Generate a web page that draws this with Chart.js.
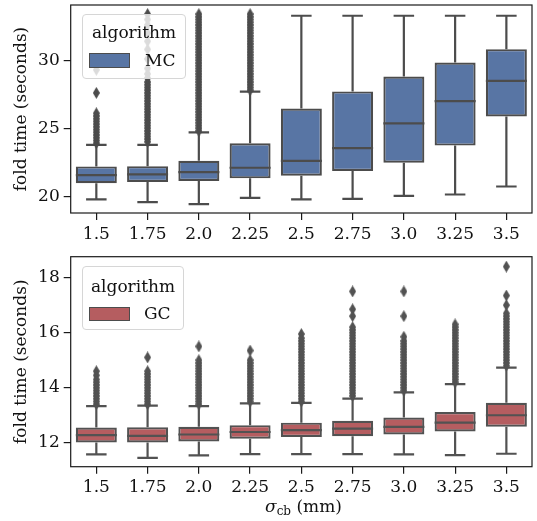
<!DOCTYPE html>
<html>
<head>
<meta charset="utf-8">
<script src="https://cdn.jsdelivr.net/npm/chart.js@4.4.1/dist/chart.umd.min.js"></script>
<style>
  body { margin: 0; background: #fff; }
  #wrap { position: relative; width: 537px; height: 521px; font-family: "DejaVu Serif", serif; color: #111; }
  #wrap canvas { position: absolute; left: 0; }
  #topChart { top: 0; }
  #bottomChart { top: 250px; }
  .legend { position: absolute; background: rgba(255, 255, 255, 0.8); border: 1px solid #d6d6d6; border-radius: 4px; box-sizing: border-box; font-size: 17px; }
  .legend .title { position: absolute; left: 0; right: 0; text-align: center; line-height: 20px; }
  .legend .patch { position: absolute; width: 41px; height: 15px; box-sizing: border-box; border: 1px solid #4c4c4c; }
  .legend .label { position: absolute; line-height: 20px; }
  #xTitle { position: absolute; left: 70px; width: 467px; top: 496px; text-align: center; font-size: 17px; }
  #xTitle sub { font-size: 12px; vertical-align: -3px; }
</style>
</head>
<body>
<div id="wrap">
  <canvas id="topChart" width="537" height="250"></canvas>
  <canvas id="bottomChart" width="537" height="271"></canvas>
  <div class="legend" style="left:82px; top:14px; width:104px; height:65px;">
    <div class="title" style="top:7px;">algorithm</div>
    <div class="patch" style="left:6px; top:38px; background:#5875a4;"></div>
    <div class="label" style="left:62px; top:35px;">MC</div>
  </div>
  <div class="legend" style="left:82px; top:266px; width:102px; height:64px;">
    <div class="title" style="top:9px;">algorithm</div>
    <div class="patch" style="left:6px; top:40px; height:14px; background:#b55d60;"></div>
    <div class="label" style="left:61px; top:36px;">GC</div>
  </div>
  <div id="xTitle"><i>σ</i><sub>cb</sub> (mm)</div>
</div>
<script>
    "use strict";

    var categories = ['1.5', '1.75', '2.0', '2.25', '2.5', '2.75', '3.0', '3.25', '3.5'];

    // MC fold times (top panel)
    var mcLow    = [19.76, 19.56, 19.42, 19.88, 19.76, 19.80, 20.02, 20.12, 20.71];
    var mcQ1     = [20.95, 21.04, 21.12, 21.31, 21.51, 21.85, 22.46, 23.72, 25.86];
    var mcMedian = [21.55, 21.60, 21.77, 22.09, 22.60, 23.53, 25.35, 27.00, 28.49];
    var mcQ3     = [22.19, 22.21, 22.60, 23.89, 26.45, 27.71, 28.81, 29.83, 30.82];
    var mcHigh   = [23.77, 23.77, 24.69, 27.69, 33.28, 33.28, 33.28, 33.28, 33.28];
    var mcOutliers = [
        [23.9, 24.1, 24.3, 24.5, 24.7, 24.9, 25.1, 25.3, 25.5, 25.7, 25.9, 26.1, 27.6, 29.3],
        [24.0, 24.2, 24.4, 24.6, 24.8, 25.0, 25.2, 25.4, 25.6, 25.8, 26.0, 26.2, 26.4, 26.6, 26.8,
         27.0, 27.2, 27.4, 27.6, 27.8, 28.0, 28.2, 28.4, 28.7, 29.0, 29.4, 30.1, 30.8, 31.4, 32.0,
         32.6, 33.0, 33.4],
        [24.8, 25.0, 25.2, 25.4, 25.6, 25.8, 26.0, 26.2, 26.4, 26.6, 26.8, 27.0, 27.2, 27.4, 27.6,
         27.8, 28.0, 28.2, 28.4, 28.6, 28.8, 29.0, 29.2, 29.4, 29.6, 29.8, 30.0, 30.2, 30.4, 30.6,
         30.8, 31.0, 31.2, 31.4, 31.6, 31.8, 32.0, 32.2, 32.4, 32.6, 32.8, 33.0, 33.2, 33.4],
        [27.8, 28.0, 28.2, 28.4, 28.6, 28.8, 29.0, 29.2, 29.4, 29.6, 29.8, 30.0, 30.2, 30.4, 30.6,
         30.8, 31.0, 31.2, 31.4, 31.6, 31.8, 32.0, 32.2, 32.4, 32.6, 32.8, 33.0, 33.2, 33.4],
        [], [], [], [], []
    ];
    var mcTicks = [20, 25, 30];

    // GC fold times (bottom panel)
    var gcLow    = [11.58, 11.45, 11.54, 11.59, 11.59, 11.59, 11.58, 11.55, 11.60];
    var gcQ1     = [12.01, 12.01, 12.05, 12.15, 12.21, 12.24, 12.30, 12.41, 12.58];
    var gcMedian = [12.28, 12.25, 12.30, 12.39, 12.46, 12.51, 12.58, 12.73, 13.00];
    var gcQ3     = [12.55, 12.56, 12.58, 12.64, 12.73, 12.80, 12.92, 13.12, 13.45];
    var gcHigh   = [13.33, 13.35, 13.33, 13.43, 13.45, 13.60, 13.83, 14.13, 14.73];
    var gcOutliers = [
        [13.4, 13.5, 13.6, 13.7, 13.8, 13.9, 14.0, 14.1, 14.2, 14.3, 14.45, 14.6],
        [13.4, 13.5, 13.6, 13.7, 13.8, 13.9, 14.0, 14.1, 14.2, 14.3, 14.4, 14.5, 14.6, 15.1],
        [13.4, 13.5, 13.6, 13.7, 13.8, 13.9, 14.0, 14.1, 14.2, 14.3, 14.4, 14.5, 14.6, 14.7, 14.8,
         14.9, 15.0, 15.5],
        [13.5, 13.6, 13.7, 13.8, 13.9, 14.0, 14.1, 14.2, 14.3, 14.4, 14.5, 14.6, 14.7, 14.8, 14.9,
         15.0, 15.35],
        [13.5, 13.6, 13.7, 13.8, 13.9, 14.0, 14.1, 14.2, 14.3, 14.4, 14.5, 14.6, 14.7, 14.8, 14.9,
         15.0, 15.1, 15.2, 15.3, 15.4, 15.5, 15.6, 15.7, 15.8, 15.95],
        [13.7, 13.8, 13.9, 14.0, 14.1, 14.2, 14.3, 14.4, 14.5, 14.6, 14.7, 14.8, 14.9, 15.0, 15.1,
         15.2, 15.3, 15.4, 15.5, 15.6, 15.7, 15.8, 15.9, 16.0, 16.1, 16.2, 16.6, 16.85, 17.5],
        [13.9, 14.0, 14.1, 14.2, 14.3, 14.4, 14.5, 14.6, 14.7, 14.8, 14.9, 15.0, 15.1, 15.2, 15.3,
         15.4, 15.5, 15.6, 15.7, 15.85, 16.6, 17.5],
        [14.2, 14.3, 14.4, 14.5, 14.6, 14.7, 14.8, 14.9, 15.0, 15.1, 15.2, 15.3, 15.4, 15.5, 15.6,
         15.7, 15.8, 15.9, 16.0, 16.1, 16.2, 16.3],
        [14.8, 14.9, 15.0, 15.1, 15.2, 15.3, 15.4, 15.5, 15.6, 15.7, 15.8, 15.9, 16.0, 16.1, 16.2,
         16.3, 16.4, 16.5, 16.6, 16.7, 17.0, 17.35, 18.4]
    ];
    var gcTicks = [12, 14, 16, 18];

    var BLUE = '#5875a4';
    var RED = '#b55d60';
    var FONT = { family: '"DejaVu Serif", serif', size: 17 };
    var FRAME = '#1a1a1a';

    // thin diamond marker like matplotlib's 'd'
    function diamond(w, h, color) {
        var c = document.createElement('canvas');
        c.width = w;
        c.height = h;
        var g = c.getContext('2d');
        g.fillStyle = color;
        g.beginPath();
        g.moveTo(w / 2, 0);
        g.lineTo(w, h / 2);
        g.lineTo(w / 2, h);
        g.lineTo(0, h / 2);
        g.closePath();
        g.fill();
        return c;
    }

    // whiskers, caps, medians and the axes frame
    function boxPlugin(stats, lineColor) {
        function capHalf(chart) {
            return chart.scales.x.width / categories.length * 0.8 / 4;
        }
        return {
            id: 'boxes',
            beforeDatasetsDraw: function (chart) {
                var xs = chart.scales.x, ys = chart.scales.y, ctx = chart.ctx;
                var half = capHalf(chart);
                ctx.save();
                ctx.strokeStyle = lineColor;
                ctx.lineWidth = 2.2;
                categories.forEach(function (c, i) {
                    var px = xs.getPixelForValue(i);
                    ctx.beginPath();
                    ctx.moveTo(px, ys.getPixelForValue(stats.q3[i]));
                    ctx.lineTo(px, ys.getPixelForValue(stats.high[i]));
                    ctx.moveTo(px - half, ys.getPixelForValue(stats.high[i]));
                    ctx.lineTo(px + half, ys.getPixelForValue(stats.high[i]));
                    ctx.moveTo(px, ys.getPixelForValue(stats.q1[i]));
                    ctx.lineTo(px, ys.getPixelForValue(stats.low[i]));
                    ctx.moveTo(px - half, ys.getPixelForValue(stats.low[i]));
                    ctx.lineTo(px + half, ys.getPixelForValue(stats.low[i]));
                    ctx.stroke();
                });
                ctx.restore();
            },
            afterDatasetDraw: function (chart, args) {
                if (args.index !== 1) return;
                var xs = chart.scales.x, ys = chart.scales.y, ctx = chart.ctx;
                var half = capHalf(chart) * 2;
                ctx.save();
                ctx.strokeStyle = lineColor;
                ctx.lineWidth = 2.2;
                categories.forEach(function (c, i) {
                    var px = xs.getPixelForValue(i);
                    var py = ys.getPixelForValue(stats.median[i]);
                    ctx.beginPath();
                    ctx.moveTo(px - half, py);
                    ctx.lineTo(px + half, py);
                    ctx.stroke();
                });
                ctx.restore();
            },
            afterDraw: function (chart) {
                var a = chart.chartArea, ctx = chart.ctx;
                ctx.save();
                ctx.strokeStyle = FRAME;
                ctx.lineWidth = 1.2;
                ctx.strokeRect(a.left, a.top, a.right - a.left, a.bottom - a.top);
                ctx.restore();
            }
        };
    }

    function makeChart(id, cfg) {
        var marker = diamond(7, 12, cfg.lineColor);
        var points = [];
        cfg.outliers.forEach(function (list, i) {
            list.forEach(function (v) {
                points.push({ x: categories[i], y: v });
            });
        });

        return new Chart(document.getElementById(id), {
            type: 'bar',
            data: {
                labels: categories,
                datasets: [{
                    type: 'line',
                    data: points,
                    showLine: false,
                    pointStyle: marker,
                    pointRadius: 4,
                    borderColor: cfg.lineColor,
                    backgroundColor: cfg.lineColor
                }, {
                    data: cfg.q1.map(function (v, i) { return [v, cfg.q3[i]]; }),
                    backgroundColor: cfg.color,
                    borderColor: cfg.lineColor,
                    borderWidth: 2.2,
                    borderSkipped: false,
                    categoryPercentage: 1,
                    barPercentage: 0.8
                }]
            },
            options: {
                responsive: false,
                animation: false,
                layout: { padding: cfg.padding },
                plugins: { legend: { display: false }, tooltip: { enabled: false } },
                scales: {
                    x: {
                        offset: true,
                        border: { display: false },
                        grid: { offset: false, drawOnChartArea: false, tickLength: 7, tickColor: FRAME, lineWidth: 1.2 },
                        ticks: { color: '#111', font: FONT, padding: 4, maxRotation: 0 },
                        afterFit: function (s) {
                            s.height = cfg.xHeight;
                            s.paddingLeft = 0;
                            s.paddingRight = 0;
                        }
                    },
                    y: {
                        min: cfg.min,
                        max: cfg.max,
                        border: { display: false },
                        grid: { drawOnChartArea: false, tickLength: 7, tickColor: FRAME, lineWidth: 1.2 },
                        ticks: { color: '#111', font: FONT, padding: 4 },
                        afterBuildTicks: function (s) {
                            s.ticks = cfg.ticks.map(function (v) { return { value: v }; });
                        },
                        title: { display: true, text: 'fold time (seconds)', color: '#111', font: FONT, padding: { top: 11, bottom: 0 } },
                        afterFit: function (s) {
                            s.width = 70.7;
                            s.paddingTop = 0;
                            s.paddingBottom = 0;
                        }
                    }
                }
            },
            plugins: [boxPlugin({ low: cfg.low, q1: cfg.q1, median: cfg.median, q3: cfg.q3, high: cfg.high }, cfg.lineColor)]
        });
    }

    makeChart('topChart', {
        low: mcLow, q1: mcQ1, median: mcMedian, q3: mcQ3, high: mcHigh,
        outliers: mcOutliers, ticks: mcTicks,
        min: 18.76, max: 34.07,
        color: BLUE, lineColor: '#4c4c4c',
        padding: { top: 3.3, right: 0.5, left: 0, bottom: 0 },
        xHeight: 37
    });

    makeChart('bottomChart', {
        low: gcLow, q1: gcQ1, median: gcMedian, q3: gcQ3, high: gcHigh,
        outliers: gcOutliers, ticks: gcTicks,
        min: 11.13, max: 18.76,
        color: RED, lineColor: '#525252',
        padding: { top: 6.7, right: 0.5, left: 0, bottom: 0 },
        xHeight: 54.3
    });
</script>
</body>
</html>
